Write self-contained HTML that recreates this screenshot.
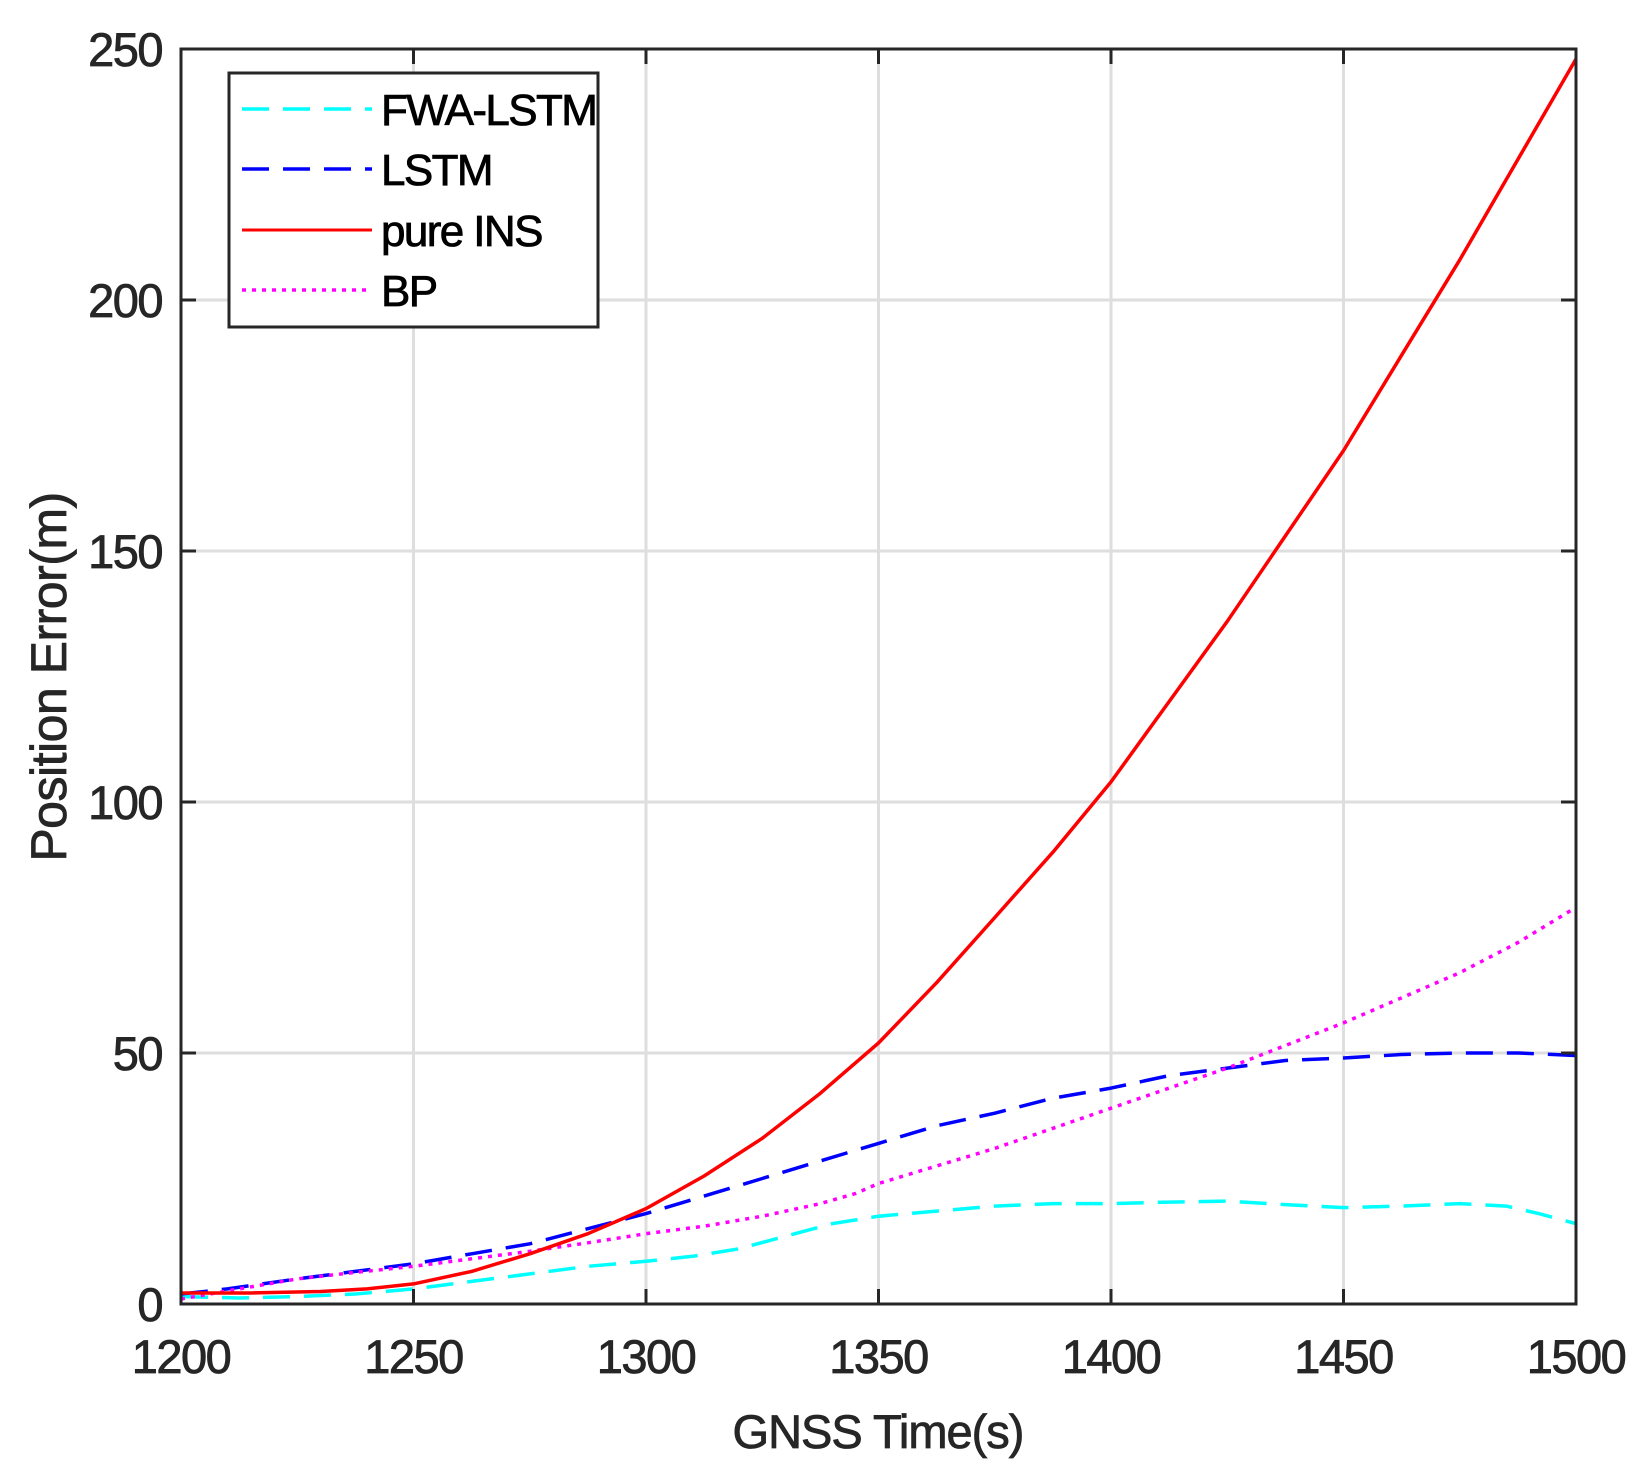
<!DOCTYPE html>
<html><head><meta charset="utf-8"><style>
body{margin:0;background:#fff}
svg text{font-family:"Liberation Sans",Arial,sans-serif}
</style></head><body>
<svg id="chart" width="1640" height="1476" viewBox="0 0 1640 1476" xmlns="http://www.w3.org/2000/svg">
<g id="grid"></g>
<g id="series"></g>
<rect x="181" y="49" width="1395" height="1255" fill="none" stroke="#262626" stroke-width="3"/>
<g id="ticks"></g>
<text x="878" y="1448" font-size="47" letter-spacing="-1" stroke="#262626" stroke-width="0.8" text-anchor="middle" fill="#262626">GNSS Time(s)</text>
<text transform="translate(66,677) rotate(-90)" font-size="50" letter-spacing="-0.5" stroke="#262626" stroke-width="0.8" text-anchor="middle" fill="#262626">Position Error(m)</text>
<g>
<rect x="229" y="73" width="369" height="254" fill="#fff" stroke="#262626" stroke-width="3"/>
<line x1="242" y1="109" x2="372" y2="109" stroke="#00ffff" stroke-width="3.5" stroke-dasharray="27 14"/>
<text x="381" y="125" font-size="44" letter-spacing="-1.6" stroke="#000" stroke-width="0.8" fill="#000">FWA-LSTM</text>
<line x1="242" y1="169" x2="372" y2="169" stroke="#0000ff" stroke-width="3.5" stroke-dasharray="27 14"/>
<text x="381" y="185" font-size="44" letter-spacing="-1.6" stroke="#000" stroke-width="0.8" fill="#000">LSTM</text>
<line x1="242" y1="230" x2="372" y2="230" stroke="#ff0000" stroke-width="3"/>
<text x="381" y="246" font-size="44" letter-spacing="-1.6" stroke="#000" stroke-width="0.8" fill="#000">pure INS</text>
<line x1="242" y1="290" x2="372" y2="290" stroke="#ff00ff" stroke-width="3.5" stroke-dasharray="4 6"/>
<text x="381" y="306" font-size="44" letter-spacing="-1.6" stroke="#000" stroke-width="0.8" fill="#000">BP</text>
</g>
</svg>
<script>
const xTicks=[1200,1250,1300,1350,1400,1450,1500];
const yTicks=[0,50,100,150,200,250];
const insT=[1200,1215,1230,1240,1250,1262.5,1275,1287.5,1300,1312.5,1325,1337.5,1350,1362.5,1375,1387.5,1400,1412.5,1425,1437.5,1450,1462.5,1475,1487.5,1500];
const insV=[2.2,2.2,2.5,3,4,6.5,10,14,19,25.5,33,42,52,64,77,90,104,120,136,153,170,189,208,228,248];
const lstmT=[1200,1210,1225,1237.5,1250,1262.5,1275,1287.5,1300,1312.5,1325,1337.5,1350,1362.5,1375,1387.5,1400,1412.5,1425,1437.5,1450,1462.5,1475,1487.5,1500];
const lstmV=[2,3,5,6.5,8,10,12,15,18,21.5,25,28.5,32,35.5,38,41,43,45.5,47,48.5,49,49.7,50,50,49.5];
const fwaT=[1200,1212.5,1225,1237.5,1250,1262.5,1275,1287.5,1300,1310,1320,1330,1340,1350,1362.5,1375,1387.5,1400,1412.5,1425,1437.5,1450,1462.5,1475,1485,1492,1500];
const fwaV=[1.5,1.2,1.5,2,3,4.5,6,7.5,8.5,9.5,11,13.5,16,17.5,18.5,19.5,20,20,20.3,20.5,19.8,19.2,19.5,20,19.5,18,16];
const bpT=[1200,1212.5,1225,1237.5,1250,1262.5,1275,1287.5,1300,1312.5,1325,1337.5,1345,1350,1362.5,1375,1387.5,1400,1412.5,1425,1437.5,1450,1462.5,1475,1487.5,1500];
const bpV=[1,3,5,6.3,7.5,9,10.5,12.2,14,15.5,17.5,20,22,24,27.5,31,35,39,43,47,51.5,56,61,66,72,79];
const NS='http://www.w3.org/2000/svg';
const X0=181,X1=1576,Y0=1304,Y1=49;
function sx(v){return X0+(v-1200)/300*(X1-X0);}
function sy(v){return Y0-v/250*(Y0-Y1);}
function mk(tag,attrs,parent){const e=document.createElementNS(NS,tag);for(const k in attrs)e.setAttribute(k,attrs[k]);parent.appendChild(e);return e;}
const grid=document.getElementById('grid'),ticks=document.getElementById('ticks'),series=document.getElementById('series');
xTicks.forEach(t=>{
 const g=mk('line',{x1:sx(t),x2:sx(t),y1:Y1,y2:Y0,stroke:'#dedede','stroke-width':3},grid);
 
 
 const a=mk('line',{x1:sx(t),x2:sx(t),y1:Y0,y2:Y0-15,stroke:'#262626','stroke-width':3},ticks);
 
 
 const b=mk('line',{x1:sx(t),x2:sx(t),y1:Y1,y2:Y1+15,stroke:'#262626','stroke-width':3},ticks);
 
 
 const l=mk('text',{x:sx(t),y:1373,'font-size':47,'letter-spacing':-1.5,stroke:'#262626','stroke-width':0.8,'text-anchor':'middle',fill:'#262626'},ticks);
 l.textContent=t;
 
 
});
yTicks.forEach(t=>{
 const g=mk('line',{x1:X0,x2:X1,y1:sy(t),y2:sy(t),stroke:'#dedede','stroke-width':3},grid);
 
 
 const a=mk('line',{x1:X0,x2:X0+15,y1:sy(t),y2:sy(t),stroke:'#262626','stroke-width':3},ticks);
 
 
 const b=mk('line',{x1:X1-15,x2:X1,y1:sy(t),y2:sy(t),stroke:'#262626','stroke-width':3},ticks);
 
 
 const l=mk('text',{x:162,y:sy(t)+17,'font-size':47,'letter-spacing':-1.5,stroke:'#262626','stroke-width':0.8,'text-anchor':'end',fill:'#262626'},ticks);
 l.textContent=t;
 
 
});
function line(T,V,color,dash,name){
 const d=T.map((t,i)=>(i?'L':'M')+sx(t).toFixed(1)+' '+sy(V[i]).toFixed(1)).join(' ');
 const p=mk('path',{d:d,fill:'none',stroke:color,'stroke-width':3.5,'stroke-dasharray':dash,'stroke-linejoin':'round'},series);
 
 
}
line(fwaT,fwaV,'#00ffff','27 14','fwa-lstm-line');
line(lstmT,lstmV,'#0000ff','27 14','lstm-line');
line(bpT,bpV,'#ff00ff','4 6','bp-line');
line(insT,insV,'#ff0000','none','pure-ins-line');
</script>
</body></html>
